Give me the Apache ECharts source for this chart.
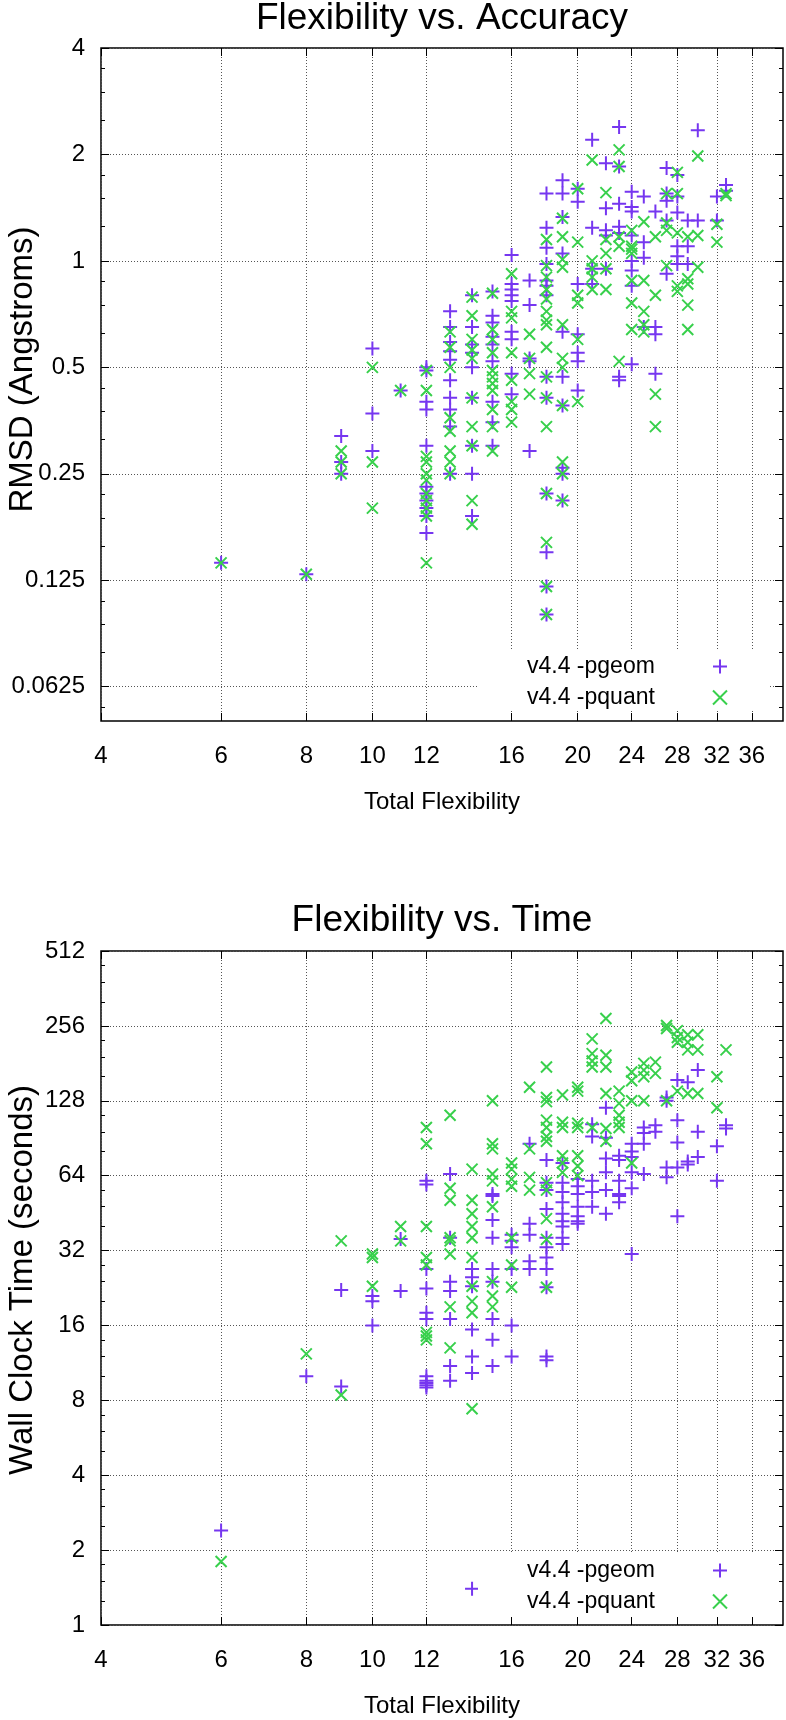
<!DOCTYPE html>
<html><head><meta charset="utf-8">
<script src="https://cdn.jsdelivr.net/npm/echarts@6/dist/echarts.min.js"></script>
<style>html,body{margin:0;padding:0;background:#fff}#c{width:786px;height:1720px}</style>
</head><body><div id="c"></div>
<script>
// ---- tick labels ----
const xTicks = [4, 6, 8, 10, 12, 16, 20, 24, 28, 32, 36];
const rmsdTicks = [0.0625, 0.125, 0.25, 0.5, 1, 2, 4];
const timeTicks = [1, 2, 4, 8, 16, 32, 64, 128, 256, 512];
const minorFactors = [1.25, 1.5, 1.75];

// ---- data: [flexibility, [values...]] ----
const rmsdPgeom = [
  [6, [0.14]], [8, [0.13]], [9, [0.32, 0.27, 0.25]], [10, [0.565, 0.37, 0.29]], [11, [0.43]],
  [12, [0.5, 0.49, 0.40, 0.38, 0.30, 0.23, 0.22, 0.21, 0.20, 0.19, 0.17]],
  [13, [0.72, 0.65, 0.59, 0.555, 0.525, 0.46, 0.41, 0.38, 0.34, 0.25]],
  [14, [0.80, 0.65, 0.58, 0.55, 0.50, 0.41, 0.30, 0.25, 0.19]],
  [15, [0.82, 0.70, 0.67, 0.61, 0.58, 0.52, 0.40, 0.35, 0.30]],
  [16, [1.04, 0.86, 0.83, 0.80, 0.77, 0.63, 0.60, 0.48, 0.42]],
  [17, [0.88, 0.75, 0.53, 0.52, 0.29]],
  [18, [1.55, 1.24, 1.09, 0.98, 0.88, 0.85, 0.80, 0.47, 0.41, 0.22, 0.15, 0.12, 0.10]],
  [19, [1.69, 1.55, 1.33, 1.05, 0.63, 0.47, 0.39, 0.26, 0.25, 0.21]],
  [20, [1.6, 1.47, 0.86, 0.62, 0.55, 0.52, 0.43]],
  [21, [2.2, 1.24, 0.95, 0.86]],
  [22, [1.89, 1.41, 1.22, 1.18, 0.95]],
  [23, [2.39, 1.85, 1.45, 1.25, 1.2, 0.47, 0.46]],
  [24, [1.57, 1.42, 1.38, 1.18, 1.0, 0.94, 0.85, 0.51]],
  [25, [1.52, 1.13, 1.02, 0.65]],
  [26, [1.38, 0.65, 0.62, 0.48]],
  [27, [1.83, 1.55, 1.48, 1.3, 0.92]],
  [28, [1.75, 1.52, 1.37, 1.1, 1.03, 0.98]],
  [29, [1.3, 1.1, 0.98]],
  [30, [2.34, 1.3]],
  [32, [1.52, 1.3]],
  [33, [1.64, 1.58]]
];
const rmsdPquant = [
  [6, [0.14]], [8, [0.13]], [9, [0.29, 0.27, 0.25]], [10, [0.50, 0.27, 0.20]], [11, [0.43]],
  [12, [0.49, 0.43, 0.28, 0.27, 0.25, 0.24, 0.22, 0.21, 0.20, 0.19, 0.14]],
  [13, [0.63, 0.57, 0.50, 0.36, 0.33, 0.29, 0.27, 0.25]],
  [14, [0.79, 0.70, 0.60, 0.56, 0.53, 0.41, 0.34, 0.30, 0.21, 0.18]],
  [15, [0.81, 0.64, 0.60, 0.55, 0.49, 0.47, 0.45, 0.43, 0.38, 0.34, 0.29]],
  [16, [0.92, 0.72, 0.69, 0.55, 0.46, 0.40, 0.38, 0.35]],
  [17, [0.62, 0.53, 0.48, 0.42]],
  [18, [1.15, 0.97, 0.90, 0.83, 0.78, 0.72, 0.68, 0.66, 0.57, 0.47, 0.41, 0.34, 0.22, 0.16, 0.12, 0.10]],
  [19, [1.32, 1.17, 1.01, 0.96, 0.66, 0.53, 0.50, 0.39, 0.27, 0.25, 0.21]],
  [20, [1.6, 1.13, 0.80, 0.76, 0.60, 0.40]],
  [21, [1.93, 1.0, 0.95, 0.90, 0.83]],
  [22, [1.56, 1.15, 1.05, 0.95, 0.83]],
  [23, [2.06, 1.85, 1.17, 1.1, 0.52]],
  [24, [1.22, 1.1, 1.08, 1.05, 0.88, 0.76, 0.64]],
  [25, [1.29, 0.88, 0.72, 0.66, 0.63]],
  [26, [1.17, 0.80, 0.42, 0.34]],
  [27, [1.55, 1.28, 1.22, 0.97]],
  [28, [1.78, 1.55, 1.2, 0.85, 0.82]],
  [29, [1.17, 0.89, 0.86, 0.75, 0.64]],
  [30, [1.98, 1.18, 0.96]],
  [32, [1.27, 1.13]],
  [33, [1.55, 1.53]]
];
const timePgeom = [
  [6, [2.4]], [8, [10.0]], [9, [22.2, 9.1]], [10, [21, 20, 16]], [11, [35.6, 22]],
  [12, [61, 59, 27, 22.5, 18, 17, 10, 9.6, 9.4, 9.2, 9.0]],
  [13, [65, 36, 24, 22, 17, 11, 9.6]],
  [14, [27, 25, 23, 15.4, 12, 10.3, 1.4]],
  [15, [54, 53, 42.5, 36, 27, 24, 17, 14, 11]],
  [16, [37, 35, 33, 27, 16, 12]],
  [17, [86, 41, 37, 29, 27]],
  [18, [74, 60, 56, 47, 36, 33, 30, 27, 22.8, 12, 11.6]],
  [19, [72, 60, 55, 50, 45, 42, 40, 36, 34]],
  [20, [62, 58, 54, 48, 44, 42, 41]],
  [21, [103, 92, 61, 55, 48]],
  [22, [120, 91, 75, 66, 56, 45]],
  [23, [77, 74, 61, 54, 53, 50]],
  [24, [86, 80, 76, 66, 57, 31]],
  [25, [100, 95, 86, 65]],
  [26, [102, 96]],
  [27, [132, 128, 69, 63]],
  [28, [155, 107, 87, 69, 44]],
  [29, [152, 73, 71]],
  [30, [170, 96, 76]],
  [32, [84, 61]],
  [33, [102, 99]]
];
const timePquant = [
  [6, [1.8]], [8, [12.3]], [9, [35, 8.4]], [10, [31, 30, 23]], [11, [40, 35]],
  [12, [100, 86, 40, 30, 28, 15, 14.5, 14]],
  [13, [112, 57, 51, 36, 35, 31, 19, 13]],
  [14, [68, 51, 45, 40, 36, 30, 23, 20, 18, 7.4]],
  [15, [128, 86, 82, 65, 61, 48, 24, 21, 19]],
  [16, [72, 68, 62, 58, 36, 28, 22.8]],
  [17, [145, 82, 63, 56]],
  [18, [175, 132, 127, 107, 100, 92, 88, 60, 56, 43, 35.5, 22.8]],
  [19, [135, 105, 100, 77, 72, 66]],
  [20, [145, 140, 104, 100, 77, 70, 64]],
  [21, [227, 198, 185, 175, 100]],
  [22, [274, 195, 175, 137, 99, 88]],
  [23, [140, 125, 112, 105, 100]],
  [24, [167, 154, 128, 72]],
  [25, [181, 170, 160, 128]],
  [26, [183, 165]],
  [27, [257, 250, 128]],
  [28, [245, 230, 220, 140]],
  [29, [236, 220, 205, 137]],
  [30, [236, 205, 137]],
  [32, [160, 120]],
  [33, [205]]
];

// ---- styling ----
const FONT = 'Liberation Sans';
const C_GEOM = '#7636f0';
const C_QUANT = '#38d04c';
const PLUS = 'path://M0,7L14,7M7,0L7,14';
const CROSS = 'path://M0,0L10,10M10,0L0,10';
const GRID_LINE = { color: '#555', width: 1, type: [1, 2] };

function flatten(groups) {
  const out = [];
  groups.forEach(([x, ys]) => ys.forEach(y => out.push([x, y])));
  return out;
}
function minorValues(ticks, min, max) {
  const out = [];
  const powers = [ticks[0] / 2].concat(ticks);
  powers.forEach(p => minorFactors.forEach(f => {
    const v = p * f;
    if (v > min && v < max) out.push(v);
  }));
  return out;
}
const fmt = v => String(Number(Number(v).toPrecision(6)));

const charts = [
  { title: 'Flexibility vs. Accuracy', titleTop: 0, grid: { left: 101, top: 48, width: 682, height: 673 },
    yMin: 0.05, yMax: 4, yTicks: rmsdTicks, yName: 'RMSD (Angstroms)', yNameShift: 30,
    geom: rmsdPgeom, quant: rmsdPquant, legendTop: 650 },
  { title: 'Flexibility vs. Time', titleTop: 902, grid: { left: 101, top: 951, width: 682, height: 674 },
    yMin: 1, yMax: 512, yTicks: timeTicks, yName: 'Wall Clock Time (seconds)', yNameShift: 16,
    geom: timePgeom, quant: timePquant, legendTop: 1554 }
];

const option = {
  animation: false,
  backgroundColor: '#fff',
  title: [], grid: [], xAxis: [], yAxis: [], legend: [], series: []
};

charts.forEach((c, k) => {
  option.title.push({
    text: c.title, left: 442, top: c.titleTop, textAlign: 'center', padding: 0,
    textStyle: { fontSize: 37, fontWeight: 'normal', fontFamily: FONT, color: '#000' }
  });
  option.grid.push(Object.assign({ show: true, borderColor: '#000', borderWidth: 1.5, backgroundColor: 'transparent', outerBoundsMode: 'none' }, c.grid));

  const xBase = { gridIndex: k, type: 'log', logBase: 2, min: 4, max: 40, axisLine: { show: false } };
  const xi = option.xAxis.length;
  option.xAxis.push(Object.assign({}, xBase, {
    position: 'bottom',
    axisTick: { show: true, inside: true, length: 8, customValues: xTicks, lineStyle: { color: '#000', width: 1 } },
    axisLabel: { show: true, customValues: xTicks, fontSize: 24, fontFamily: FONT, color: '#000', margin: 23, formatter: fmt },
    splitLine: { show: true, lineStyle: GRID_LINE },
    name: 'Total Flexibility', nameLocation: 'middle', nameGap: 69, nameMoveOverlap: false,
    nameTextStyle: { fontSize: 24, fontFamily: FONT, color: '#000' }
  }));
  option.xAxis.push(Object.assign({}, xBase, {
    position: 'top',
    axisTick: { show: true, inside: true, length: 8, customValues: xTicks, lineStyle: { color: '#000', width: 1 } },
    axisLabel: { show: false }, splitLine: { show: false }
  }));

  const yBase = { gridIndex: k, type: 'log', logBase: 2, min: c.yMin, max: c.yMax, axisLine: { show: false } };
  const minors = minorValues(c.yTicks, c.yMin, c.yMax);
  const yi = option.yAxis.length;
  option.yAxis.push(Object.assign({}, yBase, {
    position: 'left',
    axisTick: { show: true, inside: true, length: 8, customValues: c.yTicks, lineStyle: { color: '#000', width: 1 } },
    axisLabel: { show: true, customValues: c.yTicks, fontSize: 24, fontFamily: FONT, color: '#000', margin: 16, formatter: fmt },
    splitLine: { show: true, lineStyle: GRID_LINE },
    name: c.yName, nameLocation: 'middle', nameGap: 62, nameMoveOverlap: false,
    nameTextStyle: { fontSize: 33, fontFamily: FONT, color: '#000', padding: [0, 0, 0, c.yNameShift] }
  }));
  option.yAxis.push(Object.assign({}, yBase, {
    position: 'right',
    axisTick: { show: true, inside: true, length: 8, customValues: c.yTicks, lineStyle: { color: '#000', width: 1 } },
    axisLabel: { show: false }, splitLine: { show: false }
  }));
  ['left', 'right'].forEach(pos => option.yAxis.push(Object.assign({}, yBase, {
    position: pos,
    axisTick: { show: true, inside: true, length: 4, customValues: minors, lineStyle: { color: '#000', width: 1 } },
    axisLabel: { show: false }, splitLine: { show: false }
  })));

  option.legend.push({
    orient: 'vertical', align: 'right', left: 478, top: c.legendTop,
    padding: [5, 42, 2, 49], backgroundColor: '#fff',
    itemWidth: 14, itemHeight: 14, itemGap: 8, selectedMode: false,
    data: ['v4.4 -pgeom', 'v4.4 -pquant'],
    formatter: '{t|{name}}',
    textStyle: { fontSize: 23, fontFamily: FONT, color: '#000',
      rich: { t: { width: 181, align: 'left', fontSize: 23, fontFamily: FONT, color: '#000', lineHeight: 24 } } }
  });

  option.series.push({
    name: 'v4.4 -pgeom', type: 'scatter', xAxisIndex: xi, yAxisIndex: yi,
    symbol: PLUS, symbolSize: 14, data: flatten(c.geom),
    itemStyle: { color: C_GEOM, borderColor: C_GEOM, borderWidth: 2, opacity: 1 },
    emphasis: { disabled: true }
  });
  option.series.push({
    name: 'v4.4 -pquant', type: 'scatter', xAxisIndex: xi, yAxisIndex: yi,
    symbol: CROSS, symbolSize: 11, data: flatten(c.quant),
    itemStyle: { color: C_QUANT, borderColor: C_QUANT, borderWidth: 2, opacity: 1 },
    emphasis: { disabled: true }
  });
});

const chart = echarts.init(document.getElementById('c'), null, { renderer: 'canvas' });
chart.setOption(option);
</script>
</body></html>
